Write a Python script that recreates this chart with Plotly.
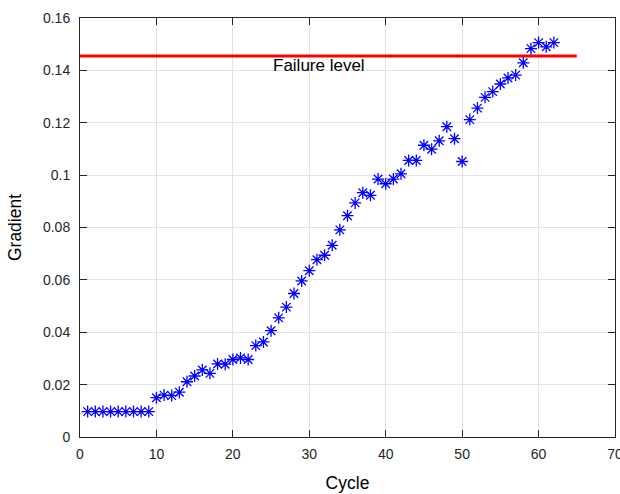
import plotly.graph_objects as go

# Measured gradient per cycle
cycles = list(range(1, 63))
gradient = [
    0.0097, 0.0097, 0.0097, 0.0097, 0.0097, 0.0097, 0.0097, 0.0097, 0.0097,
    0.0150, 0.0160, 0.0158, 0.0171, 0.0211, 0.0233, 0.0256, 0.0243, 0.0279,
    0.0278, 0.0296, 0.0302, 0.0296, 0.0349, 0.0363, 0.0406, 0.0455, 0.0496,
    0.0548, 0.0596, 0.0635, 0.0677, 0.0694, 0.0732, 0.0791, 0.0845, 0.0894,
    0.0933, 0.0923, 0.0985, 0.0967, 0.0985, 0.1005, 0.1056, 0.1056, 0.1114,
    0.1099, 0.1131, 0.1185, 0.1139, 0.1052, 0.1212, 0.1256, 0.1297, 0.1319,
    0.1348, 0.1371, 0.1382, 0.1429, 0.1483, 0.1506, 0.1490, 0.1506,
]

# Failure threshold drawn as a horizontal line
failure_x = [0, 65]
failure_level = 0.1455
failure_label = "Failure level"

x_ticks = [0, 10, 20, 30, 40, 50, 60, 70]
y_ticks = [0, 0.02, 0.04, 0.06, 0.08, 0.1, 0.12, 0.14, 0.16]
y_tick_text = ["0", "0.02", "0.04", "0.06", "0.08", "0.1", "0.12", "0.14", "0.16"]

font_family = "Liberation Sans, Arial, sans-serif"

fig = go.Figure()
fig.add_trace(go.Scatter(
    x=failure_x, y=[failure_level] * len(failure_x),
    mode="lines", line=dict(color="#ff0000", width=3),
    showlegend=False, hoverinfo="skip",
))
fig.add_trace(go.Scatter(
    x=cycles, y=gradient, mode="markers",
    marker=dict(symbol="asterisk-open", size=10,
                line=dict(color="#0000ff", width=1.3), color="#0000ff"),
    showlegend=False,
))
fig.add_annotation(
    x=25, y=failure_level - 0.0037, text=failure_label, showarrow=False,
    xanchor="left", yanchor="middle",
    font=dict(family=font_family, size=17, color="#000000"),
)

axis_common = dict(
    showline=True, linecolor="#262626", linewidth=1, mirror="ticks",
    ticks="inside", ticklen=7, tickcolor="#262626", tickwidth=1,
    showgrid=True, gridcolor="#e3e3e3", gridwidth=1, zeroline=False,
    tickfont=dict(family=font_family, size=14, color="#262626"),
    ticklabeloverflow="allow", automargin=False,
)

fig.update_layout(
    width=620, height=494,
    margin=dict(l=80, r=5, t=18, b=57),
    paper_bgcolor="white", plot_bgcolor="white",
    xaxis=dict(
        range=[0, 70], tickvals=x_ticks,
        title=dict(text="Cycle", font=dict(family=font_family, size=17.5, color="#000000"), standoff=15),
        ticklabelstandoff=4,
        **axis_common,
    ),
    yaxis=dict(
        range=[0, 0.16], tickvals=y_ticks, ticktext=y_tick_text,
        title=dict(text="Gradient", font=dict(family=font_family, size=17.5, color="#000000"), standoff=16),
        ticklabelstandoff=6,
        **axis_common,
    ),
)

fig.write_html("out.html")
